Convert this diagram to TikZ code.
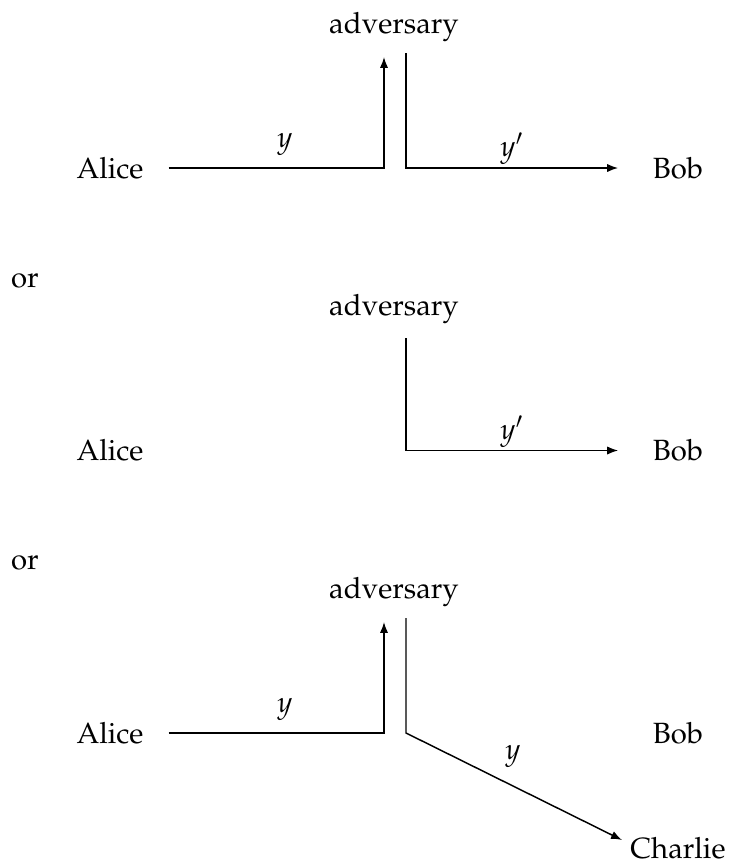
\documentclass[12pt,tikz,border=0pt]{standalone}
\usepackage[T1]{fontenc}
\usepackage{mathpazo}
\usetikzlibrary{arrows.meta}
\begin{document}
\begin{tikzpicture}[x=0.41pt,y=-0.41pt,>={Latex[length=4.5pt,width=3.4pt]},line width=0.6pt]

\def\blockspace{282.5}

\tikzstyle{party}=[inner sep=0pt]
\tikzstyle{adv}=[inner sep=0pt,anchor=base]
\tikzstyle{msg}=[inner sep=0pt]
\tikzstyle{or}=[inner sep=0pt,anchor=base]

\useasboundingbox (0,0) rectangle (729,865);

%first case: adversary passes y' to Bob
\node[adv] (adv1) at (394,33) {adversary};
\node[party] (alice1) at (110,168) {Alice};
\node[party] (bob1) at (678,168) {Bob};
\coordinate (in1) at (384,168);
\coordinate (in1top) at (384,57);
\coordinate (out1top) at (406,53);
\coordinate (out1) at (406,168);
\node[msg] (y1) at (285,144) {$y$};
\node[msg] (y1p) at (512,149) {$y'$};

\draw[->,shorten <=10pt] (alice1) -- (in1) -- (in1top);
\draw[->,shorten >=14pt] (out1top) -- (out1) -- (bob1);

\node[or] (or1) at (25,287) {or};

%second case: adversary only sends y'
\node[adv] (adv2) at (394,33+1*\blockspace) {adversary};
\node[party] (alice2) at (110,168+1*\blockspace) {Alice};
\node[party] (bob2) at (678,168+1*\blockspace) {Bob};
\coordinate (out2top) at (406,338);
\coordinate (out2) at (406,168+1*\blockspace);
\node[msg] (y2p) at (512,432) {$y'$};

\draw[->,shorten >=14pt] (out2top) -- (out2) -- (bob2);

\node[or] (or2) at (25,287+1*\blockspace) {or};

%third case: adversary forwards y to Charlie
\node[adv] (adv3) at (394,33+2*\blockspace) {adversary};
\node[party] (alice3) at (110,168+2*\blockspace) {Alice};
\node[party] (bob3) at (678,168+2*\blockspace) {Bob};
\node[party] (charlie) at (678,848) {Charlie};
\coordinate (in3) at (384,168+2*\blockspace);
\coordinate (in3top) at (384,57+2*\blockspace);
\coordinate (out3top) at (406,53+2*\blockspace);
\coordinate (out3) at (406,168+2*\blockspace);
\coordinate (tip3) at (622,840);
\node[msg] (y3) at (285,709) {$y$};
\node[msg] (y3c) at (513,756) {$y$};

\draw[->,shorten <=10pt] (alice3) -- (in3) -- (in3top);
\draw[->] (out3top) -- (out3) -- (tip3);

\end{tikzpicture}
\end{document}
